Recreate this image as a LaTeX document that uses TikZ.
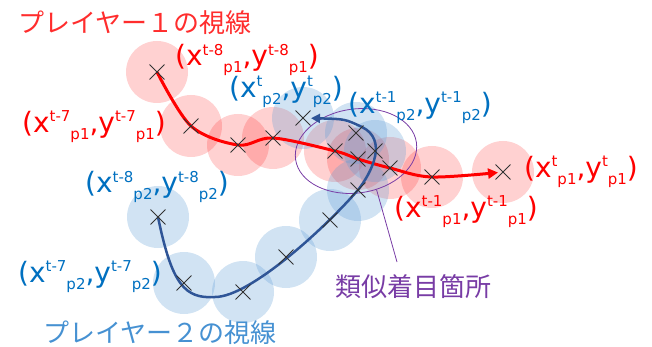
\documentclass[tikz,border=0pt]{standalone}
\usepackage{fontspec}
\setmainfont{DejaVu Sans}
\newfontfamily\jpfont{Noto Sans CJK JP}
\usetikzlibrary{arrows.meta,shapes.geometric,shapes.misc,positioning}
\definecolor{p1red}{RGB}{255,0,0}
\definecolor{p1title}{RGB}{255,45,45}
\definecolor{p2blue}{RGB}{0,112,192}
\definecolor{p2title}{RGB}{70,145,210}
\definecolor{p2dark}{RGB}{47,85,151}
\definecolor{p2light}{RGB}{91,155,213}
\definecolor{simpurple}{RGB}{120,60,165}
\newcommand{\scr}[1]{{\fontsize{15}{15}\selectfont #1}}
\newcommand{\gaze}[2]{(x\raisebox{.38em}{\scr{#1}}\raisebox{-.26em}{\scr{#2}},y\raisebox{.38em}{\scr{#1}}\raisebox{-.26em}{\scr{#2}})}

\begin{document}
\begin{tikzpicture}[x=1pt,y=-1pt,
p1spot/.style={circle,fill=p1red,fill opacity=.18,minimum size=62pt,inner sep=0pt},
p2spot/.style={circle,fill=p2light,fill opacity=.28,minimum size=62pt,inner sep=0pt},
gazept/.style={cross out,draw=black!80,line width=.9pt,minimum size=14pt,inner sep=0pt},
p1lbl/.style={text=p1red,font=\fontsize{28}{32}\selectfont,inner sep=0pt},
p2lbl/.style={text=p2blue,font=\fontsize{28}{32}\selectfont,inner sep=0pt},
jptext/.style={font=\jpfont\fontsize{26}{30}\selectfont,inner sep=0pt},
p1path/.style={draw=p1red,line width=3pt,shorten >=5pt,-{Triangle[length=10pt,width=10pt]}},
p2path/.style={draw=p2dark,line width=2.5pt,shorten >=8pt,-{Triangle[length=9pt,width=9pt]}},]
\useasboundingbox (0,0) rectangle (652,347);

\coordinate (r8) at (157,72);
\coordinate (r7) at (191,126);
\coordinate (r6) at (238,145);
\coordinate (r5) at (273,138);
\coordinate (r4) at (335,151);
\coordinate (r3) at (358,159);
\coordinate (r2) at (390,168);
\coordinate (r1) at (432,177);
\coordinate (r0) at (503,172);
\coordinate (b8) at (158,217);
\coordinate (b7) at (184,283);
\coordinate (b6) at (243,292);
\coordinate (b5) at (286,257);
\coordinate (b4) at (330,220);
\coordinate (b3) at (358,190);
\coordinate (b2) at (375,151);
\coordinate (b1) at (356,133);
\coordinate (b0) at (303,118);
\coordinate (bm) at (215,297);
\coordinate (bk) at (362,127);

\foreach \p in {r8,r7,r6,r5,r4,r3,r2,r1,r0}
  \node[p1spot] at (\p) {};
\foreach \p in {b8,b7,b6,b5,b4,b3,b2,b1,b0}
  \node[p2spot] at (\p) {};

\node[ellipse,draw=simpurple,line width=.8pt,minimum width=122pt,minimum height=84pt,rotate=8] (hot) at (356,151) {};
\coordinate (lead) at (397,262);
\draw[simpurple,line width=.8pt] (hot.-70) -- (lead);

\draw[p1path] plot[smooth,tension=.55] coordinates {(r8) (r7) (r6) (r5) (r4) (r3) (r2) (r1) (r0)};
\draw[p2path] (b8) .. controls (172,285) and (185,299) .. (bm)
  .. controls (250,297) and (325,228) .. (b3)
  .. controls (372,172) and (388,140) .. (bk)
  .. controls (345,119) .. (b0);

\foreach \p in {r8,r7,r6,r5,r4,r3,r2,r1,r0,b8,b7,b6,b5,b4,b3,b2,b1,b0}
  \node[gazept] (x\p) at (\p) {};

\node[jptext,text=p1title] (title1) at (135,23) {プレイヤー１の視線};
\node[jptext,text=p2title] (title2) at (160,333) {プレイヤー２の視線};
\node[jptext,text=simpurple] (simlbl) at (413,287) {類似着目箇所};

\node[p1lbl] (lr8) at (247,60) {\gaze{t-8}{p1}};
\node[p1lbl] (lr7) at (94,127) {\gaze{t-7}{p1}};
\node[p1lbl] (lr1) at (466,212) {\gaze{t-1}{p1}};
\node[p1lbl] (lr0) at (581,172) {\gaze{t}{p1}};
\node[p2lbl] (lb8) at (157,187) {\gaze{t-8}{p2}};
\node[p2lbl] (lb7) at (90,277) {\gaze{t-7}{p2}};
\node[p2lbl] (lb1) at (420,108) {\gaze{t-1}{p2}};
\node[p2lbl] (lb0) at (286,92) {\gaze{t}{p2}};
\end{tikzpicture}
\end{document}
